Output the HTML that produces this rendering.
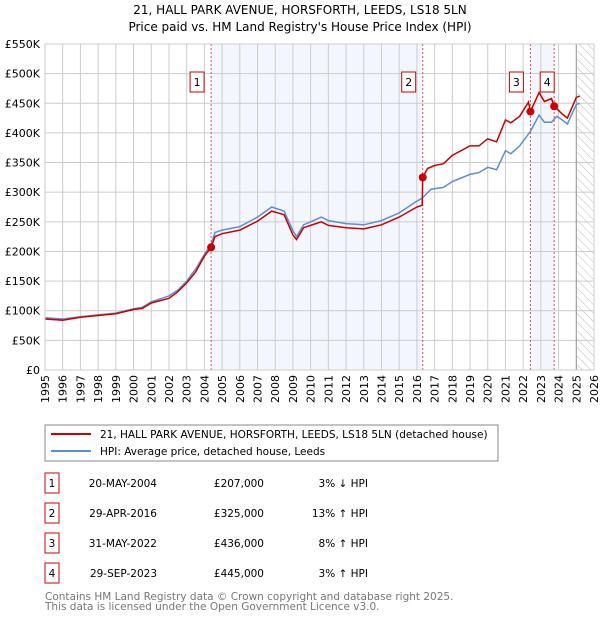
<!DOCTYPE html>
<html><head><meta charset="utf-8"><style>
body{margin:0;background:#fff;font-family:"DejaVu Sans","Liberation Sans",sans-serif;}
svg{display:block}
</style></head><body>
<svg id="chart" width="600" height="620" xmlns="http://www.w3.org/2000/svg">
<defs><pattern id="hatch" width="6" height="6" patternUnits="userSpaceOnUse" patternTransform="rotate(-45)"><line x1="0" y1="0" x2="0" y2="6" stroke="#bbb" stroke-width="1"/></pattern></defs>
<text x="300" y="14" text-anchor="middle" font-size="12">21, HALL PARK AVENUE, HORSFORTH, LEEDS, LS18 5LN</text>
<text x="300" y="31" text-anchor="middle" font-size="12">Price paid vs. HM Land Registry's House Price Index (HPI)</text>
<g id="plot"></g>
<g>
<rect x="45" y="425" width="453" height="36" fill="#fff" stroke="#888"/>
<line x1="51" y1="434" x2="91" y2="434" stroke="#cc0000" stroke-width="2"/>
<text x="100" y="438" font-size="10.5">21, HALL PARK AVENUE, HORSFORTH, LEEDS, LS18 5LN (detached house)</text>
<line x1="51" y1="451" x2="91" y2="451" stroke="#5b8fd4" stroke-width="2"/>
<text x="100" y="455" font-size="10.5">HPI: Average price, detached house, Leeds</text>
</g>
<g id="table" font-size="10.5"></g>
<text x="45" y="600" font-size="10.5" fill="#777">Contains HM Land Registry data © Crown copyright and database right 2025.</text>
<text x="45" y="610" font-size="10.5" fill="#777">This data is licensed under the Open Government Licence v3.0.</text>
</svg>
<script>
const yTicks=[0,50,100,150,200,250,300,350,400,450,500,550];
const yTickLabels=["£0","£50K","£100K","£150K","£200K","£250K","£300K","£350K","£400K","£450K","£500K","£550K"];
const years=[1995,1996,1997,1998,1999,2000,2001,2002,2003,2004,2005,2006,2007,2008,2009,2010,2011,2012,2013,2014,2015,2016,2017,2018,2019,2020,2021,2022,2023,2024,2025,2026];
const hpiT=[1995.0,1996,1997,1998,1999,2000,2000.5,2001,2002,2002.5,2003,2003.5,2004,2004.4,2004.6,2005,2006,2007,2007.8,2008.5,2009,2009.2,2009.6,2010,2010.6,2011,2012,2013,2014,2015,2016,2016.3,2016.8,2017.5,2018,2019,2019.5,2020,2020.5,2021,2021.3,2021.8,2022.4,2022.9,2023.2,2023.6,2023.9,2024.2,2024.5,2025.0,2025.2];
const hpiV=[88,86,90,93,96,103,106,115,125,135,150,170,195,213,232,236,242,258,275,268,235,225,245,250,258,252,247,245,252,265,285,290,305,308,318,330,333,342,338,370,365,378,402,430,418,418,428,422,415,448,450];
const redT=[1995.0,1996,1997,1998,1999,2000,2000.5,2001,2002,2002.5,2003,2003.5,2004,2004.38,2004.6,2005,2006,2007,2007.8,2008.5,2009,2009.2,2009.6,2010,2010.6,2011,2012,2013,2014,2015,2016,2016.3,2016.33,2016.6,2017,2017.5,2018,2019,2019.5,2020,2020.5,2021,2021.3,2021.8,2022.3,2022.41,2022.9,2023.2,2023.6,2023.75,2024.2,2024.5,2025.0,2025.2];
const redV=[86,84,89,92,95,102,104,113,121,132,147,165,192,207,225,230,236,251,268,262,228,220,240,244,250,244,240,238,245,258,275,278,325,340,345,348,362,378,378,390,385,422,417,428,452,436,468,453,458,445,432,425,460,462];
const saleT=[2004.38,2016.33,2022.41,2023.75];
const saleV=[207,325,436,445];
const saleLabels=["1","2","3","4"];
const saleDates=["20-MAY-2004","29-APR-2016","31-MAY-2022","29-SEP-2023"];
const salePrices=["£207,000","£325,000","£436,000","£445,000"];
const saleHpi=["3% ↓ HPI","13% ↑ HPI","8% ↑ HPI","3% ↑ HPI"];
const X0=45,X1=594,Y0=370,Y1=44;
const x=t=>X0+(t-1995)/(2026-1995)*(X1-X0);
const y=v=>Y0-v/550*(Y0-Y1);
const NS="http://www.w3.org/2000/svg";
const plot=document.getElementById('plot');
function mk(tag,attrs,parent){const e=document.createElementNS(NS,tag);for(const k in attrs)e.setAttribute(k,attrs[k]);(parent||plot).appendChild(e);return e;}
let e;
e=mk('rect',{x:X0,y:Y1,width:X1-X0,height:Y0-Y1,fill:'#fff'});


e=mk('rect',{x:x(saleT[0]),y:Y1,width:x(saleT[1])-x(saleT[0]),height:Y0-Y1,fill:'#eef3fc',opacity:0.7});


e=mk('rect',{x:x(saleT[2]),y:Y1,width:x(saleT[3])-x(saleT[2]),height:Y0-Y1,fill:'#eef3fc',opacity:0.7});


e=mk('rect',{x:x(2025.0),y:Y1,width:X1-x(2025.0),height:Y0-Y1,fill:'url(#hatch)'});


years.forEach((yr,i)=>{
 e=mk('line',{x1:x(yr),x2:x(yr),y1:Y1,y2:Y0,stroke:'#ccc','stroke-width':1});
 
 
 const lx=x(yr)+4, ly=Y0+5;
 e=mk('text',{x:lx,y:ly,'text-anchor':'end','font-size':11,transform:`rotate(-90 ${lx} ${ly})`});
 e.textContent=yr;
 
 
});
yTicks.forEach((v,i)=>{
 e=mk('line',{x1:X0,x2:X1,y1:y(v),y2:y(v),stroke:'#ccc','stroke-width':1});
 
 
 e=mk('text',{x:X0-5,y:y(v)+4,'text-anchor':'end','font-size':11});
 e.textContent=yTickLabels[i];
 
 
});
e=mk('line',{x1:x(2025.0),x2:x(2025.0),y1:Y1,y2:Y0,stroke:'#999','stroke-width':1});


saleT.forEach((t,i)=>{
 e=mk('line',{x1:x(t),x2:x(t),y1:Y1,y2:Y0,stroke:'#e05050','stroke-width':1,'stroke-dasharray':'2,2'});
 
 
});
function path(T,V){return T.map((t,i)=>(i?'L':'M')+x(t).toFixed(1)+','+y(V[i]).toFixed(1)).join('');}
e=mk('path',{d:path(hpiT,hpiV),fill:'none',stroke:'#5b8fd4','stroke-width':1.5});


e=mk('path',{d:path(redT,redV),fill:'none',stroke:'#cc0000','stroke-width':1.5});


saleT.forEach((t,i)=>{
 e=mk('circle',{cx:x(t),cy:y(saleV[i]),r:4,fill:'#cc0000'});
 
 
 e=mk('rect',{x:(i==3?x(t)-14:x(t)-21).toFixed(1),y:72,width:14,height:20,fill:'#fff',stroke:'#cc0000'});
 
 
 e=mk('text',{x:(i==3?x(t)-7:x(t)-14).toFixed(1),y:86,'text-anchor':'middle','font-size':11});
 e.textContent=saleLabels[i];
 
 
});
e=mk('rect',{x:X0,y:Y1,width:X1-X0,height:Y0-Y1,fill:'none',stroke:'#ccc'});


const tbl=document.getElementById('table');
saleT.forEach((t,i)=>{
 const cy=483+i*30;
 e=mk('rect',{x:45,y:cy-10,width:14,height:20,fill:'#fff',stroke:'#cc0000'},tbl);
 
 
 e=mk('text',{x:52,y:cy+4,'text-anchor':'middle'},tbl);e.textContent=saleLabels[i];
 
 
 e=mk('text',{x:157,y:cy+4,'text-anchor':'end'},tbl);e.textContent=saleDates[i];
 
 
 e=mk('text',{x:264,y:cy+4,'text-anchor':'end'},tbl);e.textContent=salePrices[i];
 
 
 e=mk('text',{x:368,y:cy+4,'text-anchor':'end'},tbl);e.textContent=saleHpi[i];
 
 
});
</script>
</body></html>
